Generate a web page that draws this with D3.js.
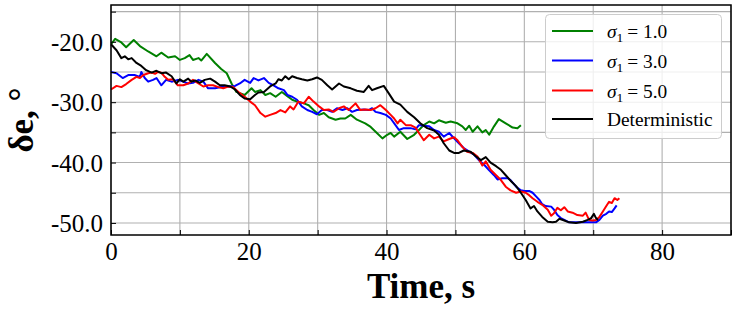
<!DOCTYPE html>
<html>
<head>
  <script src="https://d3js.org/d3.v7.min.js"></script>
  <style>
    body { margin: 0; background: #fff; }
    .chart text { font-family: "Liberation Serif", "Times New Roman", serif; fill: #000; }
    .tick text { font-size: 25px; }
    .grid line { stroke: #b0b0b0; stroke-width: 1.1; }
  </style>
</head>
<body>
  <svg class="chart"></svg>
  <script>
    // sampled time (s) and elevator deflection (deg) for each run
    var s1Time = [0, 0.15, 0.6, 1.5, 2.2, 3.3, 4.2, 5.4, 6.6, 7.3, 8.3, 9.3, 10.0, 10.7, 11.4, 11.9, 12.7, 13.1, 13.9, 15.1, 16.0, 16.8, 17.5, 18.2, 19.4, 20.4, 20.9, 21.7, 22.4, 23.1, 23.9, 24.8, 25.6, 26.3, 27.0, 28.0, 28.7, 29.4, 30.2, 30.9, 31.6, 32.6, 33.3, 34.0, 34.8, 35.7, 36.9, 37.7, 38.6, 39.4, 40.1, 40.6, 41.1, 42.0, 43.0, 44.0, 44.7, 45.4, 46.2, 46.9, 47.6, 48.6, 49.3, 50.3, 51.0, 51.5, 52.0, 52.5, 53.2, 53.9, 54.4, 54.9, 55.6, 56.3, 57.3, 58.3, 59.0, 59.5];
    var s1Vals = [-20.3, -20.2, -19.5, -20.1, -20.9, -19.7, -20.7, -21.6, -22.4, -21.8, -22.6, -22.4, -23.0, -22.7, -22.2, -23.0, -22.7, -23.1, -22.0, -23.5, -24.5, -25.2, -26.9, -28.3, -28.8, -27.7, -28.3, -28.0, -28.8, -28.5, -29.1, -28.3, -29.0, -29.6, -29.9, -30.2, -30.5, -31.3, -32.1, -31.8, -32.5, -32.9, -32.7, -32.7, -32.1, -32.9, -33.5, -34.1, -35.1, -36.0, -35.4, -35.1, -35.7, -34.9, -36.1, -35.4, -34.6, -33.8, -33.2, -33.5, -33.0, -33.4, -33.2, -33.5, -34.0, -34.6, -33.9, -34.9, -34.0, -35.0, -34.6, -35.4, -34.0, -32.8, -33.5, -34.2, -34.3, -33.8];

    var s3Time = [0, 0.8, 1.7, 2.5, 3.4, 4.2, 4.4, 4.9, 5.4, 6.1, 6.6, 7.3, 8.0, 8.8, 9.7, 10.5, 11.2, 11.9, 12.7, 13.4, 14.1, 15.1, 16.0, 17.0, 18.0, 18.7, 19.4, 20.2, 20.7, 21.4, 22.2, 22.9, 23.6, 24.3, 25.1, 25.6, 26.3, 27.0, 27.7, 28.5, 29.2, 29.9, 30.6, 31.4, 32.1, 32.8, 33.6, 34.3, 35.0, 35.7, 36.7, 37.4, 37.9, 38.4, 39.1, 39.9, 40.6, 41.3, 41.8, 42.5, 43.5, 44.2, 44.7, 45.4, 46.2, 46.9, 47.6, 48.3, 49.1, 49.8, 50.5, 51.2, 52.0, 52.7, 53.4, 54.2, 54.9, 55.6, 56.1, 56.8, 57.6, 58.0, 58.8, 59.5, 60.0, 60.7, 61.2, 61.7, 62.2, 62.6, 63.1, 63.9, 64.3, 64.8, 65.3, 65.8, 66.5, 67.7, 69.2, 70.4, 70.9, 71.4, 71.9, 72.3, 72.7, 73.1, 73.4];
    var s3Vals = [-25.0, -25.2, -26.0, -25.5, -25.5, -25.8, -25.0, -26.0, -26.6, -26.3, -26.0, -27.2, -26.3, -26.6, -26.3, -26.6, -26.9, -26.8, -26.3, -26.6, -27.7, -27.7, -27.5, -27.4, -27.3, -26.9, -26.3, -26.8, -26.0, -26.4, -26.0, -26.8, -27.2, -27.7, -28.0, -28.8, -29.1, -29.6, -30.7, -31.3, -31.6, -32.0, -31.3, -31.3, -31.6, -31.0, -31.3, -31.0, -31.6, -31.3, -31.2, -31.3, -31.0, -31.6, -31.8, -32.1, -32.7, -33.8, -34.6, -34.3, -34.3, -34.5, -33.8, -33.9, -34.0, -34.6, -34.9, -35.7, -35.1, -36.0, -36.8, -37.6, -38.2, -38.7, -39.6, -40.4, -41.3, -42.1, -42.8, -42.6, -42.6, -42.9, -44.0, -44.6, -44.7, -44.7, -45.0, -45.6, -46.2, -46.9, -47.2, -47.3, -47.8, -48.7, -49.2, -49.5, -49.9, -49.9, -49.9, -49.9, -49.5, -48.8, -48.5, -48.1, -48.2, -47.6, -47.1];

    var s5Time = [0, 0.8, 1.5, 2.2, 3.0, 3.7, 4.2, 4.7, 5.4, 5.9, 6.4, 6.8, 7.3, 7.8, 8.3, 9.0, 9.7, 10.5, 11.2, 11.9, 12.7, 13.4, 14.1, 14.8, 15.6, 16.3, 17.0, 17.7, 18.5, 19.4, 20.2, 20.9, 21.7, 22.4, 23.1, 23.9, 24.6, 25.3, 26.0, 26.5, 27.2, 28.0, 28.7, 29.4, 30.2, 30.9, 31.6, 32.3, 33.1, 33.8, 34.5, 35.5, 36.2, 36.9, 37.7, 38.4, 39.1, 39.9, 40.6, 41.1, 41.6, 42.0, 42.8, 43.5, 44.2, 44.7, 45.4, 46.2, 46.9, 47.6, 48.3, 49.1, 49.8, 50.3, 51.0, 51.7, 52.5, 53.2, 53.9, 54.4, 55.1, 55.9, 56.6, 57.3, 58.0, 58.8, 59.5, 60.2, 60.7, 61.2, 61.9, 62.6, 63.4, 63.9, 64.3, 64.8, 65.3, 65.8, 66.3, 67.0, 67.7, 68.5, 68.9, 69.4, 69.9, 70.4, 70.9, 71.4, 71.9, 72.3, 72.7, 73.1, 73.5, 73.8];
    var s5Vals = [-27.9, -27.3, -27.5, -27.0, -26.3, -25.8, -26.0, -25.5, -25.2, -25.1, -25.3, -25.0, -25.1, -25.8, -26.3, -26.2, -27.2, -27.2, -26.9, -26.3, -26.9, -27.4, -27.2, -27.2, -27.5, -27.7, -27.4, -27.5, -28.3, -29.1, -29.9, -30.5, -31.8, -32.4, -32.1, -31.8, -31.3, -31.7, -30.7, -31.2, -29.9, -30.2, -29.1, -29.9, -30.7, -31.3, -31.2, -31.6, -31.0, -30.7, -31.3, -30.2, -31.3, -31.2, -31.3, -31.0, -30.5, -31.3, -32.1, -32.7, -33.5, -32.9, -33.8, -33.8, -34.2, -35.1, -36.3, -35.4, -36.0, -35.7, -36.5, -36.1, -35.8, -36.3, -37.4, -38.2, -38.4, -39.0, -40.5, -39.8, -41.2, -42.1, -42.9, -44.0, -44.6, -45.0, -44.8, -45.0, -45.4, -45.9, -46.5, -47.0, -47.8, -48.8, -48.4, -47.5, -47.9, -47.4, -48.1, -48.3, -48.7, -48.8, -48.3, -49.5, -49.6, -49.5, -49.0, -48.1, -47.2, -46.5, -46.7, -45.9, -46.2, -45.9];

    var detTime = [0, 0.8, 1.5, 2.0, 2.5, 3.0, 3.7, 4.4, 5.1, 5.9, 6.6, 7.3, 8.0, 8.8, 9.5, 10.0, 10.5, 11.2, 11.7, 12.2, 12.9, 13.6, 14.4, 15.1, 15.8, 16.5, 17.3, 18.0, 18.7, 19.4, 20.2, 20.9, 21.4, 22.2, 23.1, 23.9, 24.3, 24.8, 25.3, 25.8, 26.3, 27.0, 27.7, 28.5, 29.2, 29.9, 30.6, 31.4, 32.1, 32.6, 33.1, 33.8, 34.8, 35.7, 36.7, 37.4, 37.9, 38.6, 39.6, 40.3, 41.1, 42.0, 43.0, 44.0, 44.9, 45.9, 46.9, 47.6, 48.3, 49.1, 49.8, 50.5, 51.2, 52.2, 52.9, 53.7, 54.4, 55.1, 55.9, 56.6, 57.3, 58.0, 58.8, 59.5, 60.2, 60.9, 61.4, 61.9, 62.6, 63.4, 64.1, 64.6, 65.1, 65.8, 66.5, 67.5, 68.5, 69.2, 69.7, 70.1, 70.4, 70.7];
    var detVals = [-20.4, -21.4, -22.7, -22.4, -22.9, -22.7, -23.5, -24.0, -24.7, -25.1, -24.8, -25.2, -25.1, -25.7, -26.9, -26.2, -26.6, -26.1, -26.6, -26.4, -26.8, -26.3, -26.1, -26.6, -27.2, -27.2, -27.4, -27.9, -28.8, -29.4, -29.5, -28.8, -28.4, -28.3, -27.4, -26.9, -26.2, -26.4, -25.7, -26.2, -25.7, -26.0, -26.2, -26.4, -26.2, -25.9, -26.3, -27.2, -27.9, -27.4, -26.9, -27.4, -27.7, -28.1, -28.3, -27.3, -28.0, -27.7, -27.3, -28.5, -29.9, -30.4, -31.6, -32.5, -33.5, -34.3, -34.7, -35.4, -36.8, -38.0, -38.4, -38.4, -38.0, -38.2, -38.9, -39.6, -39.1, -40.0, -40.6, -41.2, -42.1, -43.0, -43.9, -45.0, -46.2, -47.6, -47.2, -48.1, -49.0, -49.8, -49.9, -49.8, -49.3, -49.6, -49.9, -50.0, -49.8, -49.5, -49.2, -48.5, -49.2, -49.5];

    var seriesNames = ['σ1 = 1.0', 'σ1 = 3.0', 'σ1 = 5.0', 'Deterministic'];
    var seriesColors = ['#008000', '#0000ff', '#ff0000', '#000000'];

    var xTickValues = [0, 20, 40, 60, 80];
    var xMinorTicks = [10, 30, 50, 70, 90];
    var yTickValues = [-50, -40, -30, -20];
    var yMinorTicks = [-45, -35, -25, -15];

    var width = 735;
    var height = 314;
    // plot box edges (avoid the name "top", it is window.top)
    var plotL = 111, plotR = 731, plotT = 5, plotB = 235;

    var x = d3.scaleLinear().domain([0, 90]).range([plotL, plotR]);
    var y = d3.scaleLinear().domain([-52, -13.9]).range([plotB, plotT]);

    var svg = d3.select('.chart')
      .attr('width', width)
      .attr('height', height);

    // grid at every labelled and unlabelled tick
    var grid = svg.append('g').attr('class', 'grid');
    grid.selectAll('.gx')
      .data(xTickValues.concat(xMinorTicks))
      .enter().append('line')
      .attr('x1', function (d) { return x(d); })
      .attr('x2', function (d) { return x(d); })
      .attr('y1', plotT).attr('y2', plotB);
    grid.selectAll('.gy')
      .data(yTickValues.concat(yMinorTicks))
      .enter().append('line')
      .attr('y1', function (d) { return y(d); })
      .attr('y2', function (d) { return y(d); })
      .attr('x1', plotL).attr('x2', plotR);

    var runs = [
      { t: s1Time, v: s1Vals },
      { t: s3Time, v: s3Vals },
      { t: s5Time, v: s5Vals },
      { t: detTime, v: detVals }
    ];

    var line = d3.line()
      .x(function (d) { return x(d[0]); })
      .y(function (d) { return y(d[1]); });

    var plot = svg.append('g');
    runs.forEach(function (r, i) {
      plot.append('path')
        .datum(d3.zip(r.t, r.v))
        .attr('d', line)
        .attr('fill', 'none')
        .attr('stroke', seriesColors[i])
        .attr('stroke-width', 2)
        .attr('stroke-linejoin', 'round');
    });

    // axes: inward ticks
    var xAxis = svg.append('g')
      .attr('transform', 'translate(0,' + plotB + ')')
      .call(d3.axisBottom(x)
        .tickValues(xTickValues.concat(xMinorTicks))
        .tickSize(-5)
        .tickFormat(function (d) { return xTickValues.indexOf(d) >= 0 ? d : ''; }));
    xAxis.selectAll('text').attr('y', 25).attr('dy', 0);

    var yAxis = svg.append('g')
      .attr('transform', 'translate(' + plotL + ',0)')
      .call(d3.axisLeft(y)
        .tickValues(yTickValues.concat(yMinorTicks))
        .tickSize(-5)
        .tickPadding(8)
        .tickFormat(function (d) { return yTickValues.indexOf(d) >= 0 ? d.toFixed(1) : ''; }));
    yAxis.selectAll('text').attr('dy', '0.34em');

    svg.selectAll('.domain').remove();
    svg.selectAll('.tick line').attr('stroke', '#000').attr('stroke-width', 1);

    svg.append('rect')
      .attr('x', plotL).attr('y', plotT)
      .attr('width', plotR - plotL).attr('height', plotB - plotT)
      .attr('fill', 'none')
      .attr('stroke', '#000')
      .attr('stroke-width', 1.5);

    // axis titles
    svg.append('text')
      .attr('x', (plotL + plotR) / 2)
      .attr('y', 298)
      .attr('text-anchor', 'middle')
      .style('font-size', '35px')
      .style('font-weight', 'bold')
      .text('Time, s');

    svg.append('text')
      .attr('transform', 'translate(33,' + (plotT + plotB) / 2 + ') rotate(-90)')
      .attr('text-anchor', 'middle')
      .style('font-size', '35px')
      .style('font-weight', 'bold')
      .text('δe, °');

    // legend
    var legend = svg.append('g');
    legend.append('rect')
      .attr('x', 545.5).attr('y', 14.5)
      .attr('width', 176).attr('height', 124)
      .attr('rx', 4)
      .attr('fill', '#fff')
      .attr('fill-opacity', 0.8)
      .attr('stroke', '#cccccc');

    var rowY = [31, 60.5, 90.5, 119];
    seriesNames.forEach(function (name, i) {
      legend.append('line')
        .attr('x1', 552).attr('x2', 593)
        .attr('y1', rowY[i]).attr('y2', rowY[i])
        .attr('stroke', seriesColors[i])
        .attr('stroke-width', 2);
      var t = legend.append('text')
        .attr('x', 607)
        .attr('y', rowY[i] + 7)
        .style('font-size', '19.4px');
      if (name.indexOf('σ1') === 0) {
        t.append('tspan').style('font-style', 'italic').text('σ');
        t.append('tspan').attr('dy', 4).style('font-size', '13.5px').text('1');
        t.append('tspan').attr('dy', -4).text(name.slice(2).replace(' = ', '\u2009= '));
      } else {
        t.text(name);
      }
    });
  </script>
</body>
</html>
